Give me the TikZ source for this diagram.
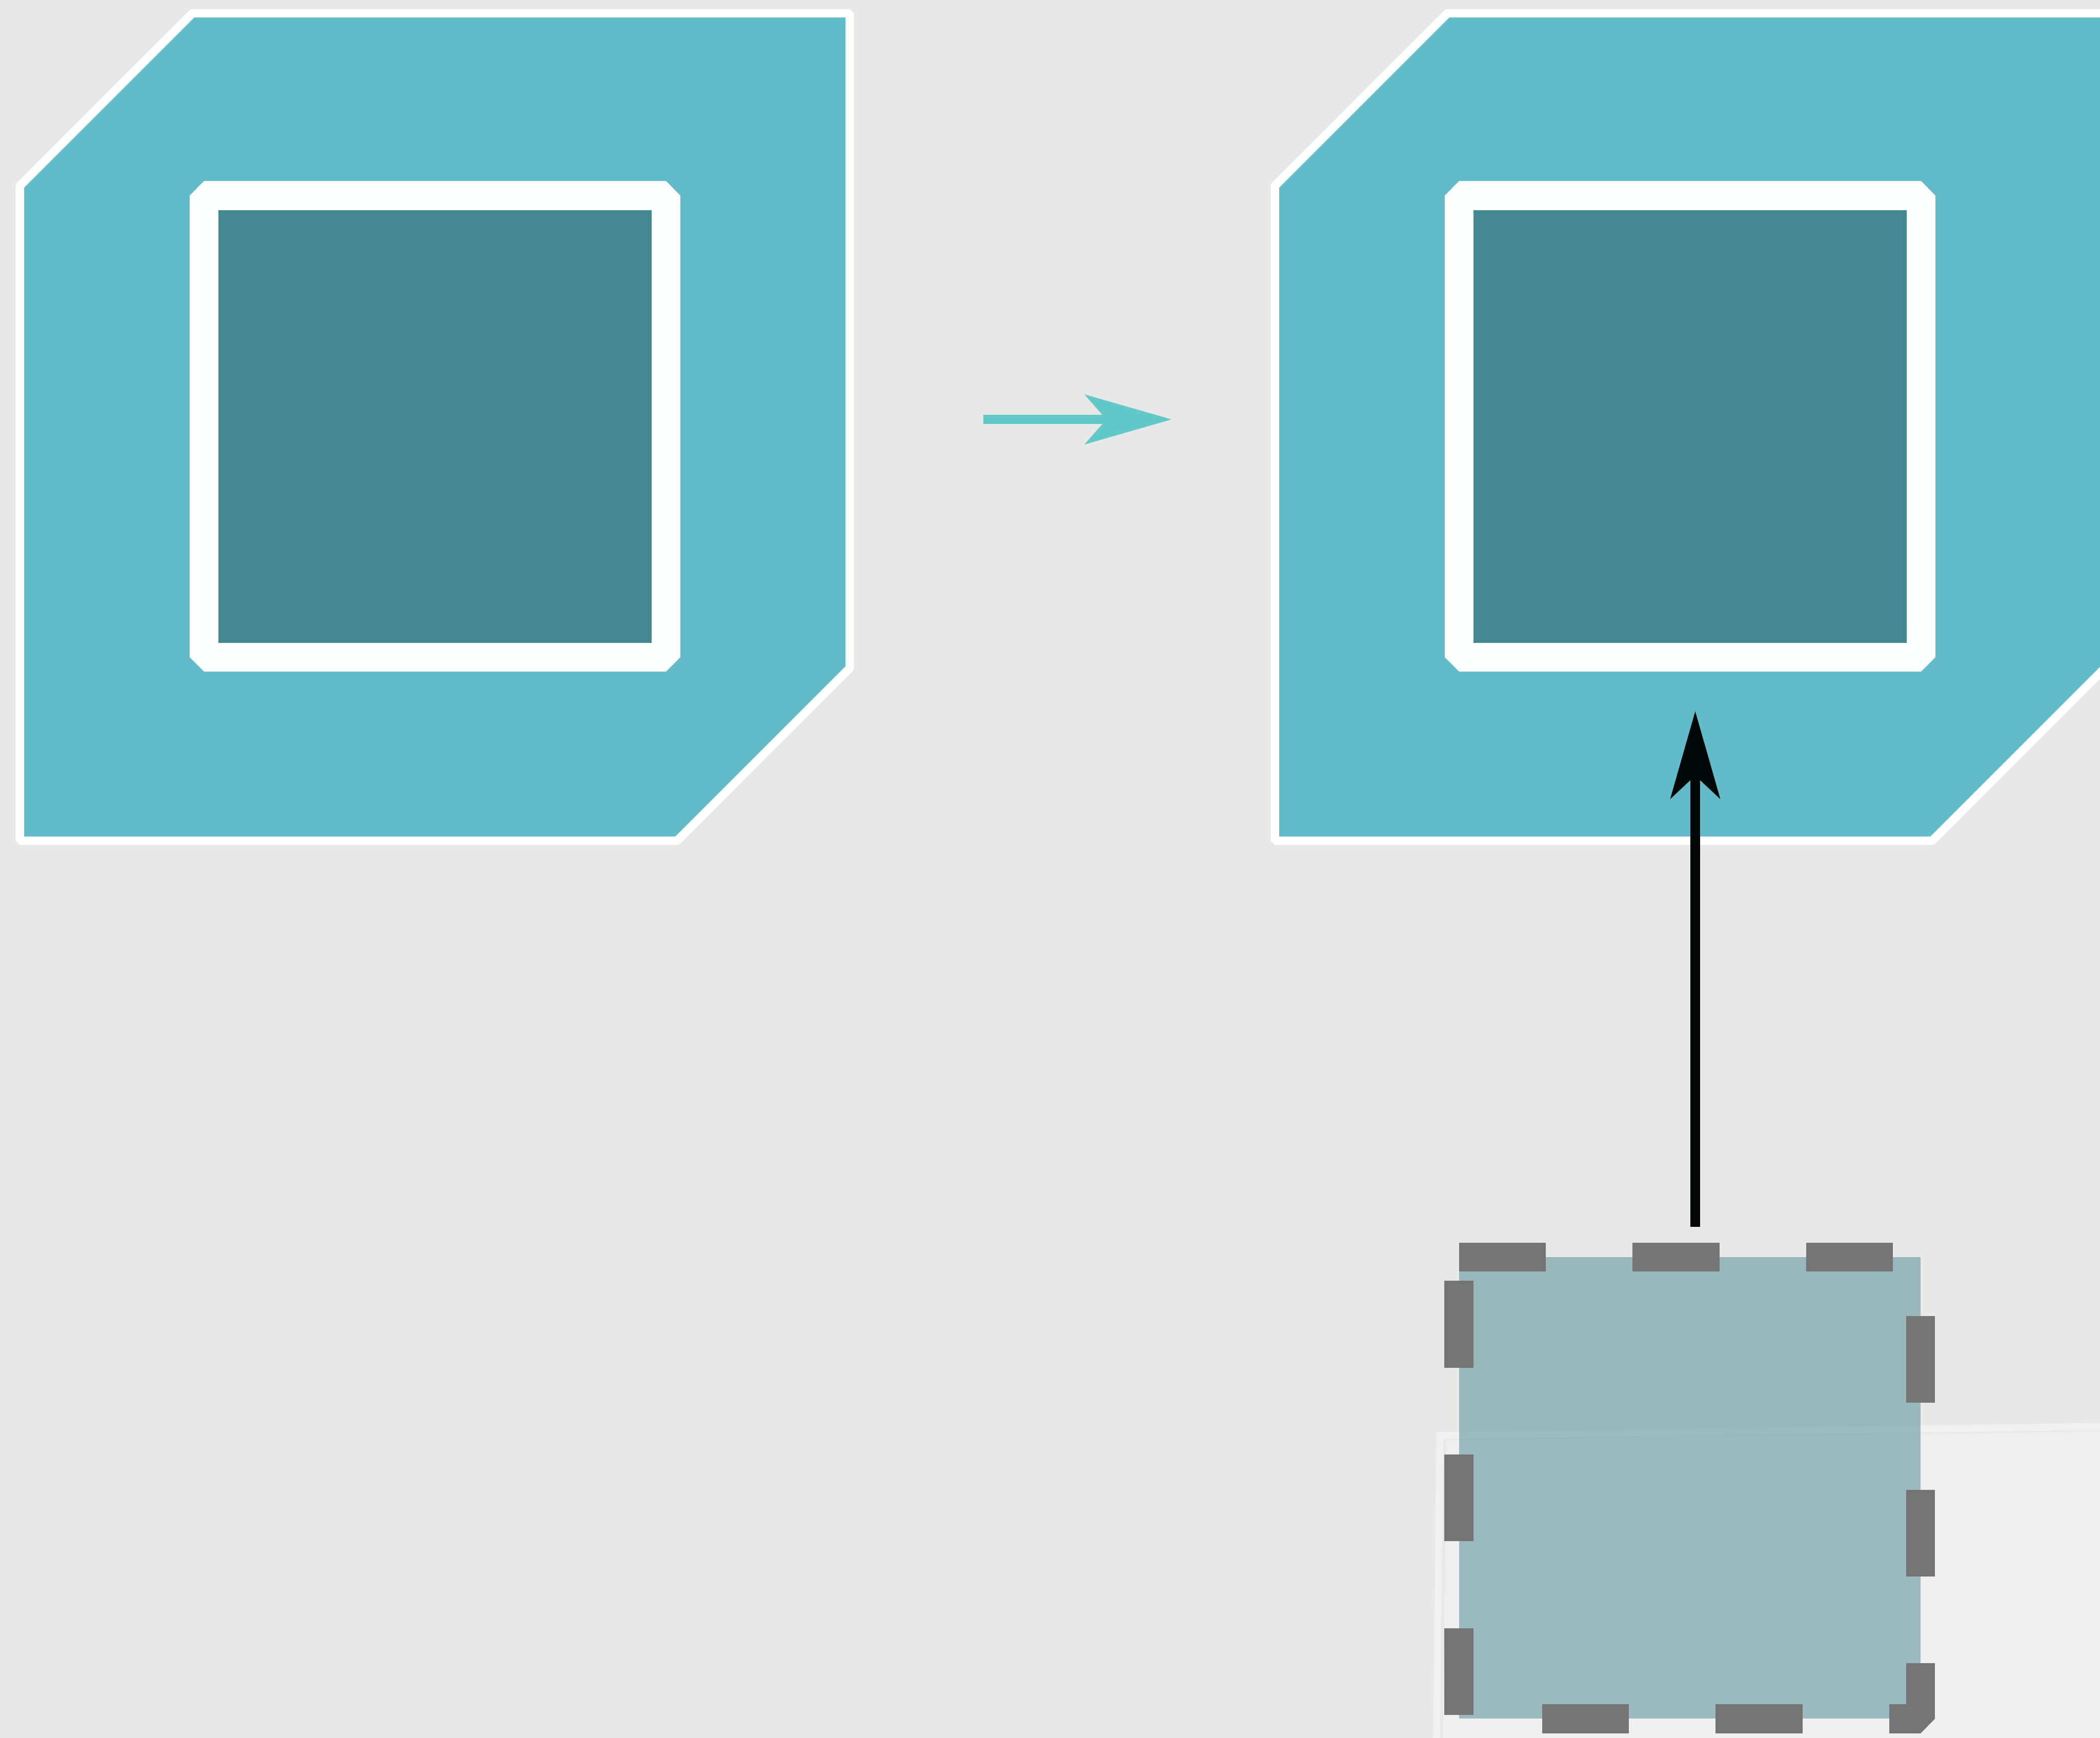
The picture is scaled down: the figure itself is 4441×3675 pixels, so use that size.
\documentclass[tikz,border=0pt]{standalone}
\usetikzlibrary{arrows.meta}

\begin{document}
\begin{tikzpicture}[
  x=0.01cm,y=-0.01cm,
  hull/.style={draw=white,fill=hullCol,line width=0.18cm,line join=bevel},
  core/.style={rectangle,draw=coreRim,fill=coreCol,minimum size=9.76cm,
               inner sep=0pt,outer sep=0pt,line width=0.61cm,line join=bevel},
  ghost/.style={rectangle,fill=coreCol,fill opacity=0.5,minimum size=9.76cm,
                inner sep=0pt,outer sep=0pt},
  ghostrim/.style={draw=rimCol,line width=0.61cm,line join=bevel,
                   dash pattern=on 1.835cm off 1.835cm},
  flow/.style={draw=flowCol,line width=0.19cm,
               -{Stealth[length=1.83cm,width=1.04cm,inset=0.45cm]}},
  lift/.style={draw=liftCol,line width=0.2cm,
               -{Stealth[length=1.84cm,width=1.04cm,inset=0.48cm]}},
]
\definecolor{paper}{HTML}{E8E8E8}
\definecolor{hullCol}{HTML}{63BBCA}
\definecolor{coreCol}{HTML}{478790}
\definecolor{coreRim}{HTML}{FCFEFE}
\definecolor{flowCol}{HTML}{62C9C8}
\definecolor{liftCol}{HTML}{020808}
\definecolor{rimCol}{HTML}{747474}

\useasboundingbox (0,0) rectangle (4441,3675);
\fill[paper] (0,0) rectangle (4441,3675);
\clip (0,0) rectangle (4441,3675);

% Two chamfered hulls, each holding a framed core.
\foreach \dx/\k in {0/1,2654/2}{
  \draw[hull] (42+\dx,393) -- (407+\dx,28) -- (1797+\dx,28)
    -- (1797+\dx,1413) -- (1432+\dx,1778) -- (42+\dx,1778) -- cycle;
  \node[core] (core\k) at (920+\dx,902) {};
}

% Faint sheet behind the incoming square.
\fill[white,opacity=0.33] (3058,3046) -- (4500,3026) -- (4500,3750)
  -- (3051,3750) -- cycle;
\draw[white,opacity=0.4,line width=0.15cm] (3045,3036) -- (4500,3016)
  -- (4500,3750) -- (3037,3750) -- cycle;

% Incoming square with a dashed rim.
\node[ghost] (ghost) at (3573.5,3146.5) {};
\draw[ghostrim] (ghost.north west) -- (ghost.north east)
  -- (ghost.south east) -- (ghost.south west) -- cycle;

\coordinate (flowA) at (2079,887);
\coordinate (flowB) at (2478,887);
\draw[flow] (flowA) -- (flowB);

\coordinate (liftA) at (3585,2594);
\coordinate (liftB) at (3585,1504);
\draw[lift] (liftA) -- (liftB);
\end{tikzpicture}
\end{document}
